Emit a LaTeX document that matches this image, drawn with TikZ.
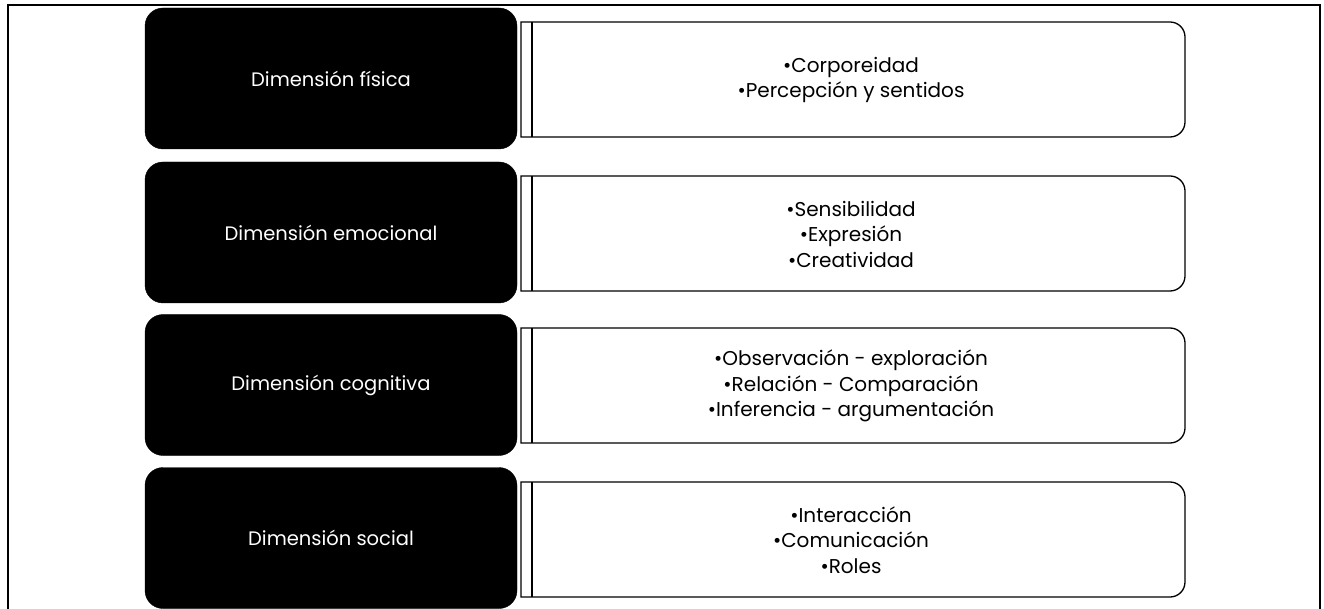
\documentclass[tikz,border=0pt]{standalone}
\usepackage{fontspec}
\setmainfont{Poppins}
\begin{document}
\begin{tikzpicture}[x=1pt,y=1pt,
  blackbox/.style={fill=black,draw=black,rounded corners=18pt,minimum width=372pt,minimum height=141pt,inner sep=0pt,text=white,font=\fontsize{19.5}{22}\selectfont},
  wline/.style={draw=black,line width=1.3pt},
  itemtext/.style={align=center,font=\fontsize{20}{25.5}\selectfont,inner sep=0pt}]
\useasboundingbox (0,0) rectangle (1324,-609);
% outer frame
\draw[line width=1.8pt] (8,-609) -- (8,-5) -- (1320,-5) -- (1320,-609);
% rows
\foreach \r/\yw in {1/79.5, 2/233.5, 3/385.5, 4/539.5}{
  \begin{scope}[yshift=-\yw pt]
    \draw[wline] (521,57.5) -- (1170,57.5) arc[start angle=90,end angle=0,radius=15] -- (1185,-42.5) arc[start angle=0,end angle=-90,radius=15] -- (521,-57.5) -- cycle;
    \draw[wline] (532,57.5) -- (532,-57.5);
  \end{scope}
}
\node[blackbox] (b1) at (331,-78.5) {Dimensión física};
\node[blackbox] (b2) at (331,-232.5) {Dimensión emocional};
\node[blackbox] (b3) at (331,-385) {Dimensión cognitiva};
\node[blackbox] (b4) at (331,-538) {Dimensión social};
\node[itemtext] (t1) at (851,-80) {•Corporeidad\\•Percepción y sentidos};
\node[itemtext] (t2) at (851,-234) {•Sensibilidad\\•Expresión\\•Creatividad};
\node[itemtext] (t3) at (851,-386) {•Observación - exploración\\•Relación - Comparación\\•Inferencia - argumentación};
\node[itemtext] (t4) at (851,-540) {•Interacción\\•Comunicación\\•Roles};
\end{tikzpicture}
\end{document}
